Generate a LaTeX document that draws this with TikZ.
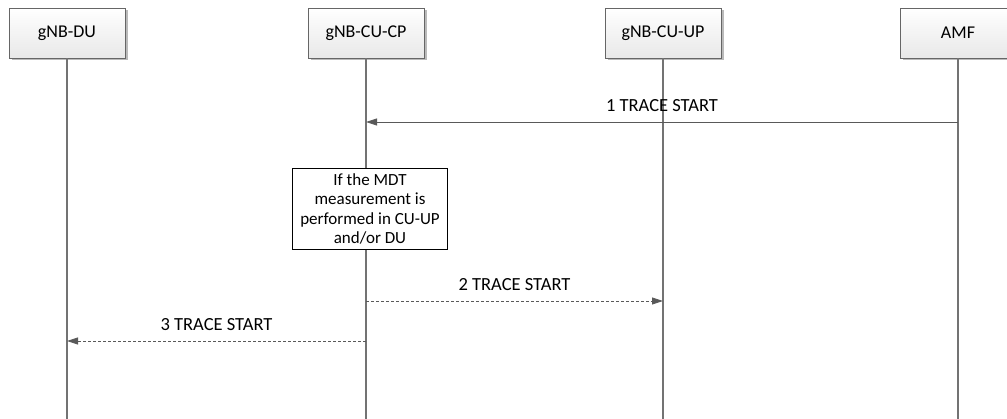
\documentclass[tikz,border=0pt]{standalone}
\usepackage{fontspec}
\setmainfont{Carlito}
\usepackage{tikz}
\usetikzlibrary{positioning,arrows.meta,shadows}

\begin{document}
\begin{tikzpicture}[
  x=1pt, y=-1pt,
  font=\fontsize{18.5}{21}\selectfont,
  entity/.style={draw=black!60, top color=white, bottom color=black!9,
                 minimum width=116pt, minimum height=50pt, inner sep=2pt,
                 font=\fontsize{18}{21}\selectfont,
                 drop shadow={shadow xshift=2.5pt, shadow yshift=-2.5pt,
                              fill=black!45, opacity=0.6}},
  life/.style={draw=black!55, line width=1.1pt},
  note/.style={draw=black, fill=white, align=center,
               minimum width=155pt, minimum height=81pt, inner sep=2pt,
               font=\fontsize{17}{19.5}\selectfont},
  msg/.style={-{Triangle[length=11pt, width=7pt]}, draw=black!65,
              line width=0.9pt},
  reply/.style={msg, dash pattern=on 3pt off 2pt},
  lbl/.style={midway, above=8pt, inner sep=2pt}]

\useasboundingbox (0,0) rectangle (1007,419);
\clip (0,0) rectangle (1007,419);

% participants
\node[entity] (du)  at (67,33)  {gNB-DU};
\node[entity] (cp)  at (366,33) {gNB-CU-CP};
\node[entity] (up)  at (663,33) {gNB-CU-UP};
\node[entity] (amf) at (958,33) {AMF};

% lifelines
\coordinate (bot) at (0,419);
\draw[life] (du)  -- (du  |- bot);
\draw[life] (cp)  -- (cp  |- bot);
\draw[life] (up)  -- (up  |- bot);
\draw[life] (amf) -- (amf |- bot);

% messages
\coordinate (t1) at (0,122);
\coordinate (t2) at (0,301);
\coordinate (t3) at (0,341);

\draw[msg] (amf |- t1) -- (cp |- t1) node[lbl] (m1) {1 TRACE START};

\node[note] (cond) at (370,209) {If the MDT\\ measurement is\\ performed in
  CU-UP\\ and/or DU};

\draw[reply] (cp |- t2) -- (up |- t2) node[lbl] (m2) {2 TRACE START};
\draw[reply] (cp |- t3) -- (du |- t3) node[lbl] (m3) {3 TRACE START};
\end{tikzpicture}
\end{document}
